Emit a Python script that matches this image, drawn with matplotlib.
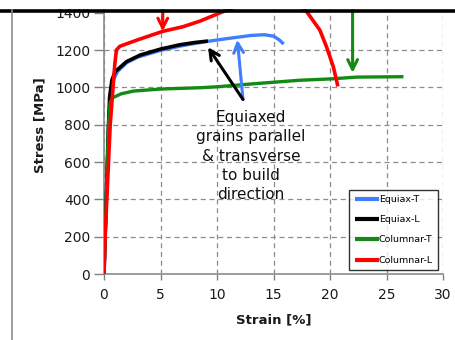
import matplotlib
matplotlib.use("Agg")
import matplotlib.pyplot as plt
from matplotlib.lines import Line2D
from matplotlib.patches import Rectangle

# ---- data ----
equiax_t_strain = [0, 0.1, 0.2, 0.3, 0.4, 0.55, 0.8, 1.2, 2, 3, 5, 7, 9, 11, 13, 14.2, 15, 15.5, 15.9]
equiax_t_stress = [0, 200, 400, 600, 800, 950, 1035, 1085, 1132, 1162, 1198, 1224, 1245, 1262, 1278, 1282, 1274, 1255, 1232]

equiax_l_strain = [0, 0.1, 0.2, 0.3, 0.4, 0.5, 0.7, 1.0, 2, 3.2, 5, 6.7, 8, 9.2]
equiax_l_stress = [0, 200, 400, 600, 800, 950, 1040, 1085, 1138, 1173, 1205, 1228, 1240, 1248]

columnar_t_strain = [0, 0.1, 0.2, 0.3, 0.4, 0.55, 0.8, 1.5, 2.6, 5, 8.5, 10, 13, 17.3, 20, 22.4, 26.5]
columnar_t_stress = [0, 200, 400, 600, 800, 920, 945, 965, 980, 991, 998, 1003, 1018, 1038, 1045, 1055, 1057]

columnar_l_strain = [0, 0.1, 0.25, 0.4, 0.55, 0.8, 0.95, 1.1, 1.4, 3, 5.2, 7, 8.5, 10.3, 12, 14, 16, 17.3, 18, 19.1, 19.7, 20.3, 20.7]
columnar_l_stress = [0, 200, 400, 600, 800, 1000, 1120, 1200, 1220, 1255, 1300, 1325, 1355, 1400, 1440, 1470, 1475, 1450, 1400, 1307, 1216, 1109, 1005]

series_labels = ["Equiax-T", "Equiax-L", "Columnar-T", "Columnar-L"]
series_colors = ["#3F7FFF", "#000000", "#138A13", "#FF0000"]

x_ticks = [0, 5, 10, 15, 20, 25, 30]
y_ticks = [0, 200, 400, 600, 800, 1000, 1200, 1400]

annotation_text = "Equiaxed\ngrains parallel\n& transverse\nto build\ndirection"

# ---- figure ----
W, H = 456, 340
fig = plt.figure(figsize=(W / 100, H / 100), dpi=100)
ax_left, ax_right = 104 / W, 443 / W
ax_bottom = 1 - 274 / H
ymax = 1420
ax_top_px = 274 - ymax / 200 * 37.33
ax_top = 1 - ax_top_px / H
ax = fig.add_axes([ax_left, ax_bottom, ax_right - ax_left, ax_top - ax_bottom])

xs = [equiax_t_strain, equiax_l_strain, columnar_t_strain, columnar_l_strain]
ys = [equiax_t_stress, equiax_l_stress, columnar_t_stress, columnar_l_stress]
widths = [2.4, 2.6, 2.4, 2.6]
for i in range(4):
    ax.plot(xs[i], ys[i], color=series_colors[i], lw=widths[i], label=series_labels[i],
            solid_capstyle="butt", zorder=3 + i)

ax.set_xlim(0, 30)
ax.set_ylim(0, ymax)
ax.set_xticks(x_ticks)
ax.set_yticks(y_ticks)
ax.tick_params(axis="both", labelsize=10, colors="#808080", labelcolor="#1a1a1a",
               length=5, width=1, direction="out")
ax.tick_params(axis="y", length=7, pad=3)
ax.tick_params(axis="x", length=4, pad=6)
ax.grid(True, color="#8c8c8c", linestyle=(0, (4, 3)), lw=0.9)
ax.get_ygridlines()[-1].set_visible(False)
ax.set_axisbelow(True)
for s in ["top", "right"]:
    ax.spines[s].set_visible(False)
for s in ["left", "bottom"]:
    ax.spines[s].set_color("#8c8c8c")
    ax.spines[s].set_linewidth(1.2)

ax.set_xlabel("Strain [%]", fontsize=9.5, fontweight="bold", color="#1a1a1a")
ax.set_ylabel("Stress [MPa]", fontsize=9.5, fontweight="bold", color="#1a1a1a")
ax.xaxis.set_label_coords(0.5, -0.15)
ax.yaxis.set_label_coords(-0.171, 0.56)

# arrows
arrow_kw = dict(arrowstyle="->,head_length=0.7,head_width=0.35", lw=2.2, shrinkA=0, shrinkB=0)
ax.annotate("", xy=(5.2, 1300), xytext=(5.2, 1440),
            arrowprops=dict(color="#FF0000", **arrow_kw), annotation_clip=False)
ax.annotate("", xy=(22.0, 1078), xytext=(22.0, 1440),
            arrowprops=dict(color="#138A13", **arrow_kw), annotation_clip=False)
ax.annotate("", xy=(11.8, 1255), xytext=(12.3, 935),
            arrowprops=dict(color="#3F7FFF", **arrow_kw), zorder=10)
ax.annotate("", xy=(9.2, 1215), xytext=(12.3, 935),
            arrowprops=dict(color="#000000", **arrow_kw), zorder=10)

ax.text(13.0, 632, annotation_text, ha="center", va="center", fontsize=11,
        linespacing=1.37, color="#111111", zorder=11)

leg = ax.legend(loc="lower right",
                bbox_to_anchor=((438 - 104) / (443 - 104), (274 - 270) / (274 - ax_top_px)),
                fontsize=6.8, frameon=True, fancybox=False, handlelength=2.55,
                handletextpad=0.0, labelspacing=1.2, borderpad=0.55, borderaxespad=0)
leg.get_frame().set_edgecolor("#000000")
leg.get_frame().set_linewidth(1.0)
for lh in leg.get_lines():
    lh.set_linewidth(3)
leg.set_zorder(12)

# frame decorations of the cropped original
fig.add_artist(Rectangle((0, 1 - 9 / H), 1, 9 / H, facecolor="white", edgecolor="none",
                         transform=fig.transFigure, zorder=20))
fig.add_artist(Line2D([0, 1], [1 - 10.8 / H, 1 - 10.8 / H], color="black", lw=2.6,
                      transform=fig.transFigure, zorder=21))
fig.add_artist(Line2D([12.5 / W, 12.5 / W], [0, 1 - 10 / H], color="#8c8c8c", lw=1.2,
                      transform=fig.transFigure, zorder=21))

fig.savefig("out.png", dpi=100)
